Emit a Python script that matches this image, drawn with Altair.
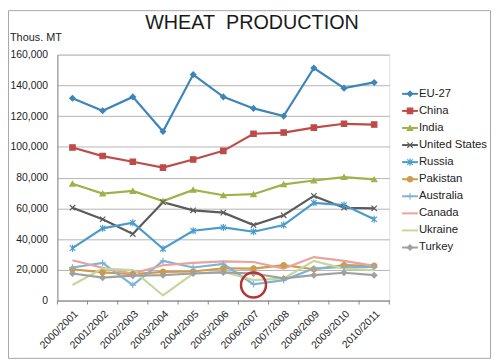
import altair as alt
import pandas as pd

years = ["2000/2001", "2001/2002", "2002/2003", "2003/2004", "2004/2005", "2005/2006",
         "2006/2007", "2007/2008", "2008/2009", "2009/2010", "2010/2011"]

series = ["EU-27", "China", "India", "United States", "Russia", "Pakistan",
          "Australia", "Canada", "Ukraine", "Turkey"]

# thousand metric tons (in thousands)
eu27 = [131.6, 123.5, 132.5, 110.0, 147.0, 132.5, 125.0, 120.0, 151.3, 138.2, 141.9]
china = [99.6, 94.0, 90.3, 86.5, 91.8, 97.4, 108.5, 109.3, 112.5, 115.0, 114.5]
india = [76.0, 69.6, 71.3, 64.7, 72.0, 68.5, 69.2, 75.6, 78.1, 80.3, 78.8]
united_states = [60.4, 52.9, 43.3, 64.0, 58.7, 57.2, 49.1, 55.5, 68.1, 60.4, 60.0]
russia = [34.1, 47.0, 50.6, 33.7, 45.4, 47.6, 44.8, 49.1, 63.6, 62.1, 52.9]
pakistan = [20.4, 18.3, 17.2, 18.7, 18.9, 21.0, 20.8, 23.0, 20.4, 23.0, 22.6]
australia = [21.5, 24.5, 10.1, 25.8, 21.5, 23.8, 10.6, 13.3, 20.8, 21.9, 21.9]
canada = [26.2, 21.3, 17.6, 23.0, 24.5, 25.5, 25.1, 20.8, 28.3, 25.8, 22.6]
ukraine = [10.1, 20.8, 19.8, 3.3, 17.6, 18.7, 13.3, 14.4, 25.8, 20.8, 19.8]
turkey = [17.6, 14.9, 16.2, 16.5, 17.6, 18.3, 17.6, 14.4, 16.5, 18.1, 16.5]

all_values = [eu27, china, india, united_states, russia, pakistan,
              australia, canada, ukraine, turkey]

colors = ["#3D85B8", "#BE4B48", "#A2B04A", "#5B5B5B", "#4A9BCB", "#CF9A4A",
          "#7FB3D5", "#E8A39C", "#C5D89B", "#A0A0A0"]
shapes = ["diamond", "square", "triangle-up",
          "M-1,-1L1,1M-1,1L1,-1",
          "M-1,-1L1,1M-1,1L1,-1M0,-1.3L0,1.3",
          "circle",
          "M0,-1.2L0,1.2M-1.2,0L1.2,0",
          "M0,0", "M0,0", "diamond"]
marked = ["EU-27", "China", "India", "United States", "Russia", "Pakistan",
          "Australia", "Turkey"]

y_ticks = [0, 20000, 40000, 60000, 80000, 100000, 120000, 140000, 160000]

rows = []
for s, vals in zip(series, all_values):
    for i, (yr, v) in enumerate(zip(years, vals)):
        rows.append({"year": yr, "series": s, "value": v * 1000, "idx": i})
df = pd.DataFrame(rows)

W, H = 336, 249
FONT = "Liberation Sans"
AXIS_C = "#868686"

xscale = alt.Scale(domain=years, type="point", padding=0.5)
cscale = alt.Scale(domain=series, range=colors)
sscale = alt.Scale(domain=series, range=shapes)
yscale = alt.Scale(domain=[0, 160000], nice=False)

X = alt.X("year:N", scale=xscale, sort=years, title=None,
          axis=alt.Axis(labelAngle=-45, labelFontSize=10.5, ticks=False, tickSize=0,
                        domainColor=AXIS_C, labelPadding=8, labelColor="#222",
                        labelFont=FONT, grid=False))
Y = alt.Y("value:Q", scale=yscale, title=None,
          axis=alt.Axis(values=y_ticks, format=",d", grid=True, gridColor="#B4B4B4",
                        ticks=False, tickSize=0, labelPadding=10, domainColor=AXIS_C,
                        labelFontSize=10.5, labelColor="#222", labelFont=FONT))
C = alt.Color("series:N", scale=cscale, legend=None)
F = alt.Fill("series:N", scale=cscale, legend=None)
S = alt.Shape("series:N", scale=sscale, legend=None)

base = alt.Chart(df)

lines = base.mark_line(strokeWidth=2.2).encode(
    x=X, y=Y, color=C, order=alt.Order("idx:Q"))

points = base.transform_filter(
    alt.FieldOneOfPredicate(field="series", oneOf=marked)
).mark_point(size=30, strokeWidth=1.2, opacity=1).encode(
    x=X, y=Y, color=C, fill=F, shape=S)

tick_df = pd.DataFrame({"year": years})
xticks = alt.Chart(tick_df).mark_rule(xOffset=-15.27, color=AXIS_C).encode(
    x=X, y=alt.value(H), y2=alt.value(H + 4))
last_tick = alt.Chart(pd.DataFrame({"a": [1]})).mark_rule(color=AXIS_C).encode(
    x=alt.value(W), y=alt.value(H), y2=alt.value(H + 4))

circle_df = pd.DataFrame({"year": ["2006/2007"], "value": [10100]})
circle = alt.Chart(circle_df).mark_point(
    shape="circle", size=640, filled=False, color="#B33535", strokeWidth=2.5, opacity=1
).encode(x=X, y=Y)

title = alt.Chart(pd.DataFrame({"t": ["WHEAT\u00a0 PRODUCTION"]})).mark_text(
    fontSize=20, font=FONT, align="center", baseline="alphabetic", color="#1a1a1a"
).encode(x=alt.value(197), y=alt.value(-26), text="t:N")

unit = alt.Chart(pd.DataFrame({"t": ["Thous. MT"]})).mark_text(
    fontSize=11, font=FONT, align="left", baseline="alphabetic", color="#222"
).encode(x=alt.value(-48), y=alt.value(-14), text="t:N")

frame = alt.Chart(pd.DataFrame({"a": [1]})).mark_rect(
    fillOpacity=0, stroke="#A6A6A6", strokeWidth=1
).encode(x=alt.value(-49.5), x2=alt.value(438.5), y=alt.value(-44.5), y2=alt.value(307.5))

main = alt.layer(lines, points, xticks, last_tick, circle, title, unit, frame)

leg_df = pd.DataFrame({"series": series})
LY = alt.Y("series:N", scale=alt.Scale(domain=series, type="point", padding=0,
                                       range=[39.7, 195.3]),
           axis=None, title=None)
leg_lines = alt.Chart(leg_df).mark_rule(strokeWidth=2).encode(
    x=alt.value(349), x2=alt.value(365), y=LY, color=C)
leg_points = alt.Chart(leg_df).transform_filter(
    alt.FieldOneOfPredicate(field="series", oneOf=marked)
).mark_point(size=30, strokeWidth=1.2, opacity=1).encode(
    x=alt.value(357), y=LY, color=C, fill=F, shape=S)
leg_text = alt.Chart(leg_df).mark_text(
    align="left", baseline="middle", fontSize=11.5, font=FONT, color="#222"
).encode(x=alt.value(366), y=LY, text="series:N")

legend = alt.layer(leg_lines, leg_points, leg_text)

chart = alt.layer(main, legend).resolve_scale(y="independent").properties(
    width=W, height=H,
    autosize=alt.AutoSizeParams(type="none"),
    padding={"left": 50, "top": 45, "right": 104, "bottom": 60},
).configure_view(stroke="transparent").configure(font=FONT)

chart.save("out.html", embed_options={"renderer": "svg", "actions": False})
